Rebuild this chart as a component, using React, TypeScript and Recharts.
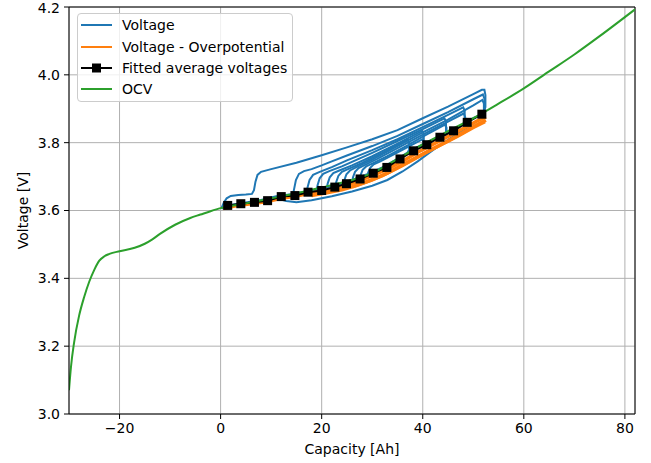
import { LineChart, Line, XAxis, YAxis, CartesianGrid, Legend, ReferenceLine } from 'recharts'

type Pt = [number, number]

const FONT = 'DejaVu Sans, sans-serif'

const xTicks = [-20, 0, 20, 40, 60, 80]
const yTicks = [3.0, 3.2, 3.4, 3.6, 3.8, 4.0, 4.2]

// open circuit voltage vs capacity
const ocv: Pt[] = [
  [-30, 3.07], [-29.6, 3.14], [-29, 3.21], [-28, 3.29], [-27, 3.345], [-26, 3.39], [-25, 3.425],
  [-24, 3.452], [-23, 3.465], [-22, 3.472], [-20, 3.48], [-17, 3.49], [-15, 3.502], [-13.5, 3.515],
  [-12, 3.531], [-9, 3.558], [-6, 3.578], [-4, 3.588], [-2, 3.598], [0, 3.607], [5, 3.621],
  [10, 3.636], [15, 3.651], [20, 3.668], [25, 3.686], [30, 3.71], [35, 3.752], [40, 3.795],
  [45, 3.834], [50, 3.872], [55, 3.915], [60, 3.96], [65, 4.01], [70, 4.06], [75, 4.114], [82, 4.193],
]

const fittedCap = [1.4, 4.0, 6.7, 9.3, 12.0, 14.7, 17.3, 20.0, 22.6, 24.9, 27.6, 30.2, 32.9, 35.5, 38.2, 40.8, 43.4, 46.1, 48.8, 51.7]
const fittedVolt = [3.615, 3.62, 3.624, 3.629, 3.641, 3.644, 3.654, 3.659, 3.669, 3.679, 3.693, 3.71, 3.727, 3.752, 3.776, 3.794, 3.816, 3.835, 3.86, 3.884]

// measured terminal voltage, one trace per charge pulse
const voltageTraces: Pt[][] = [
  [[0.2, 3.608], [0.6, 3.622], [1.2, 3.636], [2, 3.643], [3.5, 3.646], [5, 3.647], [6.2, 3.649], [6.6, 3.66], [6.9, 3.685], [7.3, 3.705], [8, 3.714], [10, 3.722], [15, 3.741], [20, 3.763], [25, 3.786], [30, 3.81], [35, 3.837], [40, 3.872], [45, 3.906], [50, 3.943], [51.7, 3.956], [52.2, 3.956], [52.4, 3.94], [52.4, 3.905], [52.1, 3.892]],
  [[14.3, 3.645], [14.5, 3.66], [14.9, 3.69], [15.5, 3.708], [16.5, 3.716], [18, 3.722], [20, 3.733], [22, 3.745], [25, 3.762], [30, 3.79], [35, 3.82], [40, 3.855], [45, 3.89], [50, 3.928], [51.9, 3.942], [52.2, 3.93], [52.2, 3.895], [51.9, 3.886]],
  [[17, 3.654], [17.2, 3.668], [17.6, 3.69], [18.3, 3.705], [19.5, 3.713], [22, 3.728], [25, 3.748], [30, 3.778], [35, 3.81], [40, 3.846], [45, 3.882], [48, 3.904], [48.3, 3.895], [48.3, 3.855], [48, 3.848]],
  [[19, 3.66], [19.2, 3.675], [19.6, 3.695], [20.3, 3.708], [21.5, 3.716], [24, 3.73], [27, 3.75], [30, 3.77], [35, 3.805], [40, 3.84], [44.3, 3.872], [44.6, 3.862], [44.6, 3.83], [44.3, 3.822]],
  [[21, 3.666], [21.2, 3.68], [21.6, 3.698], [22.3, 3.71], [23.5, 3.718], [26, 3.733], [30, 3.76], [35, 3.797], [39.9, 3.835], [40.2, 3.825], [40.2, 3.8], [39.9, 3.794]],
  [[22.7, 3.671], [22.9, 3.685], [23.3, 3.702], [24, 3.714], [25.2, 3.722], [28, 3.74], [32, 3.77], [37, 3.81], [37.3, 3.8], [37.3, 3.778], [37, 3.772]],
  [[24.3, 3.676], [24.5, 3.69], [24.9, 3.707], [25.6, 3.718], [26.8, 3.727], [30, 3.75], [35, 3.79], [40, 3.83], [45, 3.868], [50, 3.91], [51.8, 3.926], [52.1, 3.915], [52.1, 3.89], [51.8, 3.884]],
  [[26, 3.684], [26.2, 3.698], [26.6, 3.714], [27.3, 3.725], [28.5, 3.734], [31, 3.752], [35, 3.784], [40, 3.824], [45, 3.862], [48.1, 3.886], [48.4, 3.875], [48.4, 3.85], [48.1, 3.845]],
  [[27.5, 3.69], [27.7, 3.704], [28.1, 3.72], [28.8, 3.73], [30, 3.738], [33, 3.76], [37, 3.792], [40, 3.818], [44.4, 3.853], [44.7, 3.845], [44.7, 3.825], [44.4, 3.82]],
  [[29, 3.7], [29.2, 3.712], [29.6, 3.726], [30.3, 3.736], [31.5, 3.744], [34, 3.763], [37, 3.787], [39.9, 3.81], [40.2, 3.8], [40.2, 3.79]],
  [[11, 3.636], [13, 3.628], [15, 3.624], [18, 3.63], [22, 3.642], [26, 3.656], [30, 3.673], [33, 3.69], [36, 3.715], [39, 3.745], [42, 3.778], [45, 3.808], [48, 3.838], [51, 3.866], [52.3, 3.876]],
  [[0.2, 3.606], [2, 3.616], [5, 3.624], [8, 3.631], [11, 3.642], [14, 3.648], [17, 3.656], [20, 3.664], [23, 3.675], [26, 3.69], [29, 3.707], [32, 3.727], [35, 3.752], [38, 3.78], [41, 3.802], [44, 3.824], [47, 3.846], [50, 3.872], [52.2, 3.888]],
]

// voltage with the overpotential removed
const overpotTraces: Pt[][] = [
  [[0.5, 3.606], [3, 3.614], [6, 3.62], [9, 3.626], [12, 3.636], [15, 3.643], [18, 3.652], [21, 3.66], [24, 3.67], [27, 3.685], [30, 3.703], [33, 3.722], [36, 3.745], [39, 3.772], [42, 3.795], [45, 3.818], [48, 3.842], [51, 3.866], [52.5, 3.876]],
  [[18, 3.644], [21, 3.652], [24, 3.661], [27, 3.674], [30, 3.69], [33, 3.71], [36, 3.733], [39, 3.758], [42, 3.782], [45, 3.805], [48, 3.83], [51, 3.855], [52.5, 3.866]],
  [[26, 3.67], [29, 3.685], [32, 3.703], [35, 3.726], [38, 3.75], [41, 3.774], [44, 3.797], [47, 3.82], [50, 3.845], [52.3, 3.862]],
]

const toRows = (pts: Pt[]) => pts.map(([x, y]) => ({ x, y }))
const fittedRows = fittedCap.map((x, i) => ({ x, y: fittedVolt[i] }))

const BLUE = '#1f77b4'
const ORANGE = '#ff7f0e'
const GREEN = '#2ca02c'

const legendItems = [
  { label: 'Voltage', color: BLUE, marker: false },
  { label: 'Voltage - Overpotential', color: ORANGE, marker: false },
  { label: 'Fitted average voltages', color: '#000', marker: true },
  { label: 'OCV', color: GREEN, marker: false },
]

const SquareDot = (props: any) => {
  const { cx, cy, index } = props
  if (cx == null || cy == null) return null
  return <rect key={`sq-${index}`} x={cx - 4.5} y={cy - 4.5} width={9} height={9} fill="#000" />
}

const renderLegend = () => (
  <div
    style={{
      background: 'rgba(255,255,255,0.8)',
      border: '1px solid #cccccc',
      borderRadius: 4,
      padding: '0.5px 0 1px 0',
      fontFamily: FONT,
      fontSize: 14,
      color: '#000',
    }}
  >
    {legendItems.map((it) => (
      <div key={it.label} style={{ height: 21.4, display: 'flex', alignItems: 'center' }}>
        <svg width={31} height={10} style={{ marginLeft: 3, marginRight: 10 }}>
          <line x1={0} y1={5} x2={31} y2={5} stroke={it.color} strokeWidth={2} />
          {it.marker && <rect x={11} y={0.5} width={9} height={9} fill="#000" />}
        </svg>
        <span style={{ whiteSpace: 'nowrap' }}>{it.label}</span>
      </div>
    ))}
  </div>
)

const YLabel = (props: any) => {
  const { viewBox } = props
  const cx = viewBox.x + 23
  const cy = viewBox.y + viewBox.height / 2
  return (
    <text x={cx} y={cy} transform={`rotate(-90, ${cx}, ${cy})`} textAnchor="middle" dominantBaseline="central" fontFamily={FONT} fontSize={14} fill="#000">
      Voltage [V]
    </text>
  )
}

const XLabel = (props: any) => {
  const { viewBox } = props
  const cx = viewBox.x + viewBox.width / 2
  return (
    <text x={cx} y={449} textAnchor="middle" dominantBaseline="central" fontFamily={FONT} fontSize={14} fill="#000">
      Capacity [Ah]
    </text>
  )
}

const fmtX = (v: number) => (v < 0 ? `\u2212${Math.abs(v)}` : String(v))
const fmtY = (v: number) => v.toFixed(1)

export default function App() {
  const tick = { fill: '#000', fontSize: 14, fontFamily: FONT }
  return (
    <div style={{ position: 'absolute', left: 0, top: 0, width: 651, height: 463, background: '#fff' }}>
      <LineChart width={651} height={463} margin={{ top: 7, right: 16, bottom: 0, left: 0 }}>
        <CartesianGrid stroke="#b0b0b0" strokeWidth={1} />
        <XAxis
          type="number"
          dataKey="x"
          domain={[-30, 82]}
          ticks={xTicks}
          allowDataOverflow
          height={49}
          tickSize={5}
          tickMargin={4}
          stroke="#000"
          tick={tick}
          tickFormatter={fmtX}
          label={<XLabel />}
        />
        <YAxis
          type="number"
          dataKey="y"
          domain={[3.0, 4.2]}
          ticks={yTicks}
          allowDataOverflow
          width={69}
          tickSize={5}
          tickMargin={4}
          stroke="#000"
          tick={tick}
          tickFormatter={fmtY}
          label={<YLabel />}
        />
        <ReferenceLine y={4.2} stroke="#000" strokeWidth={1} />
        <ReferenceLine x={82} stroke="#000" strokeWidth={1} />
        {voltageTraces.map((tr, i) => (
          <Line
            key={`v${i}`}
            data={toRows(tr)}
            dataKey="y"
            type="linear"
            stroke={BLUE}
            strokeWidth={2}
            dot={false}
            legendType="none"
            isAnimationActive={false}
          />
        ))}
        {overpotTraces.map((tr, i) => (
          <Line
            key={`o${i}`}
            data={toRows(tr)}
            dataKey="y"
            type="linear"
            stroke={ORANGE}
            strokeWidth={3.5}
            dot={false}
            legendType="none"
            isAnimationActive={false}
          />
        ))}
        <Line
          data={fittedRows}
          dataKey="y"
          type="linear"
          stroke="#000"
          strokeWidth={2}
          dot={SquareDot}
          legendType="none"
          isAnimationActive={false}
        />
        <Line
          data={toRows(ocv)}
          dataKey="y"
          type="monotone"
          stroke={GREEN}
          strokeWidth={2}
          dot={false}
          legendType="none"
          isAnimationActive={false}
        />
        <Legend
          layout="vertical"
          align="center"
          verticalAlign="middle"
          content={renderLegend}
          wrapperStyle={{ left: 77, top: 13, width: 216 }}
        />
      </LineChart>
    </div>
  )
}
